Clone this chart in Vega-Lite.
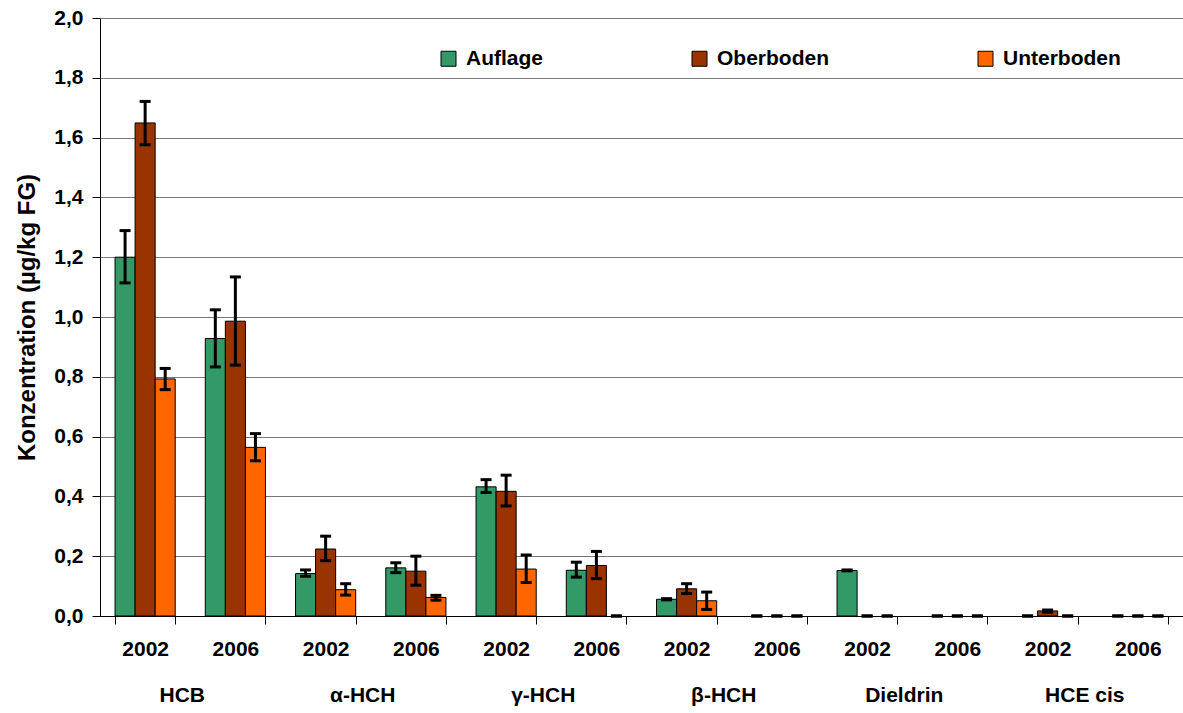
{
  "$schema": "https://vega.github.io/schema/vega-lite/v6.json",
  "width": 1083,
  "height": 598,
  "autosize": {"type": "none"},
  "padding": {"left": 100, "top": 18, "right": 0, "bottom": 97},
  "background": "white",
  "config": {
    "view": {"stroke": null},
    "font": "Liberation Sans",
    "axis": {"labelColor": "black", "titleColor": "black", "domainColor": "black", "tickColor": "black", "labelFont": "Liberation Sans", "titleFont": "Liberation Sans"}
  },
  "data": {
    "values": [
      {"compound": "HCB", "year": "2002", "key": "HCB|2002", "Boden": "Auflage", "value": 1.200, "lo": 1.114, "hi": 1.289},
      {"compound": "HCB", "year": "2002", "key": "HCB|2002", "Boden": "Oberboden", "value": 1.649, "lo": 1.576, "hi": 1.721},
      {"compound": "HCB", "year": "2002", "key": "HCB|2002", "Boden": "Unterboden", "value": 0.793, "lo": 0.757, "hi": 0.828},
      {"compound": "HCB", "year": "2006", "key": "HCB|2006", "Boden": "Auflage", "value": 0.928, "lo": 0.833, "hi": 1.024},
      {"compound": "HCB", "year": "2006", "key": "HCB|2006", "Boden": "Oberboden", "value": 0.986, "lo": 0.839, "hi": 1.134},
      {"compound": "HCB", "year": "2006", "key": "HCB|2006", "Boden": "Unterboden", "value": 0.564, "lo": 0.519, "hi": 0.610},
      {"compound": "α-HCH", "year": "2002", "key": "α-HCH|2002", "Boden": "Auflage", "value": 0.142, "lo": 0.133, "hi": 0.154},
      {"compound": "α-HCH", "year": "2002", "key": "α-HCH|2002", "Boden": "Oberboden", "value": 0.224, "lo": 0.185, "hi": 0.267},
      {"compound": "α-HCH", "year": "2002", "key": "α-HCH|2002", "Boden": "Unterboden", "value": 0.088, "lo": 0.070, "hi": 0.108},
      {"compound": "α-HCH", "year": "2006", "key": "α-HCH|2006", "Boden": "Auflage", "value": 0.161, "lo": 0.145, "hi": 0.178},
      {"compound": "α-HCH", "year": "2006", "key": "α-HCH|2006", "Boden": "Oberboden", "value": 0.150, "lo": 0.103, "hi": 0.200},
      {"compound": "α-HCH", "year": "2006", "key": "α-HCH|2006", "Boden": "Unterboden", "value": 0.062, "lo": 0.053, "hi": 0.069},
      {"compound": "γ-HCH", "year": "2002", "key": "γ-HCH|2002", "Boden": "Auflage", "value": 0.432, "lo": 0.413, "hi": 0.456},
      {"compound": "γ-HCH", "year": "2002", "key": "γ-HCH|2002", "Boden": "Oberboden", "value": 0.417, "lo": 0.368, "hi": 0.471},
      {"compound": "γ-HCH", "year": "2002", "key": "γ-HCH|2002", "Boden": "Unterboden", "value": 0.157, "lo": 0.112, "hi": 0.204},
      {"compound": "γ-HCH", "year": "2006", "key": "γ-HCH|2006", "Boden": "Auflage", "value": 0.153, "lo": 0.130, "hi": 0.180},
      {"compound": "γ-HCH", "year": "2006", "key": "γ-HCH|2006", "Boden": "Oberboden", "value": 0.169, "lo": 0.125, "hi": 0.216},
      {"compound": "γ-HCH", "year": "2006", "key": "γ-HCH|2006", "Boden": "Unterboden", "value": 0, "lo": 0, "hi": 0},
      {"compound": "β-HCH", "year": "2002", "key": "β-HCH|2002", "Boden": "Auflage", "value": 0.056, "lo": 0.054, "hi": 0.058},
      {"compound": "β-HCH", "year": "2002", "key": "β-HCH|2002", "Boden": "Oberboden", "value": 0.091, "lo": 0.075, "hi": 0.108},
      {"compound": "β-HCH", "year": "2002", "key": "β-HCH|2002", "Boden": "Unterboden", "value": 0.051, "lo": 0.022, "hi": 0.080},
      {"compound": "β-HCH", "year": "2006", "key": "β-HCH|2006", "Boden": "Auflage", "value": 0, "lo": 0, "hi": 0},
      {"compound": "β-HCH", "year": "2006", "key": "β-HCH|2006", "Boden": "Oberboden", "value": 0, "lo": 0, "hi": 0},
      {"compound": "β-HCH", "year": "2006", "key": "β-HCH|2006", "Boden": "Unterboden", "value": 0, "lo": 0, "hi": 0},
      {"compound": "Dieldrin", "year": "2002", "key": "Dieldrin|2002", "Boden": "Auflage", "value": 0.152, "lo": 0.151, "hi": 0.154},
      {"compound": "Dieldrin", "year": "2002", "key": "Dieldrin|2002", "Boden": "Oberboden", "value": 0, "lo": 0, "hi": 0},
      {"compound": "Dieldrin", "year": "2002", "key": "Dieldrin|2002", "Boden": "Unterboden", "value": 0, "lo": 0, "hi": 0},
      {"compound": "Dieldrin", "year": "2006", "key": "Dieldrin|2006", "Boden": "Auflage", "value": 0, "lo": 0, "hi": 0},
      {"compound": "Dieldrin", "year": "2006", "key": "Dieldrin|2006", "Boden": "Oberboden", "value": 0, "lo": 0, "hi": 0},
      {"compound": "Dieldrin", "year": "2006", "key": "Dieldrin|2006", "Boden": "Unterboden", "value": 0, "lo": 0, "hi": 0},
      {"compound": "HCE cis", "year": "2002", "key": "HCE cis|2002", "Boden": "Auflage", "value": 0, "lo": 0, "hi": 0},
      {"compound": "HCE cis", "year": "2002", "key": "HCE cis|2002", "Boden": "Oberboden", "value": 0.017, "lo": 0.013, "hi": 0.020},
      {"compound": "HCE cis", "year": "2002", "key": "HCE cis|2002", "Boden": "Unterboden", "value": 0, "lo": 0, "hi": 0},
      {"compound": "HCE cis", "year": "2006", "key": "HCE cis|2006", "Boden": "Auflage", "value": 0, "lo": 0, "hi": 0},
      {"compound": "HCE cis", "year": "2006", "key": "HCE cis|2006", "Boden": "Oberboden", "value": 0, "lo": 0, "hi": 0},
      {"compound": "HCE cis", "year": "2006", "key": "HCE cis|2006", "Boden": "Unterboden", "value": 0, "lo": 0, "hi": 0}
    ]
  },
  "layer": [
    {
      "encoding": {
        "x": {
          "field": "key", "type": "nominal",
          "sort": ["HCB|2002", "HCB|2006", "α-HCH|2002", "α-HCH|2006", "γ-HCH|2002", "γ-HCH|2006", "β-HCH|2002", "β-HCH|2006", "Dieldrin|2002", "Dieldrin|2006", "HCE cis|2002", "HCE cis|2006"],
          "scale": {"type": "band", "paddingInner": 0.3333, "paddingOuter": 0.1667},
          "axis": {
            "orient": "bottom",
            "title": null,
            "labelExpr": "split(datum.value, '|')[1]",
            "labelAngle": 0,
            "labelFontSize": 21,
            "labelFontWeight": "bold",
            "labelPadding": 14,
            "tickBand": "extent",
            "tickSize": 8,
            "domainWidth": 1,
            "grid": false
          }
        },
        "xOffset": {"field": "Boden", "type": "nominal", "sort": ["Auflage", "Oberboden", "Unterboden"], "scale": {"paddingInner": 0, "paddingOuter": 0}}
      },
      "layer": [
        {
          "mark": {"type": "bar", "stroke": "black", "strokeWidth": 1},
          "encoding": {
            "y": {
              "field": "value", "type": "quantitative",
              "scale": {"domain": [0, 2], "nice": false},
              "axis": {
                "title": "Konzentration (µg/kg FG)",
                "values": [0, 0.2, 0.4, 0.6, 0.8, 1.0, 1.2, 1.4, 1.6, 1.8, 2.0],
                "labelExpr": "replace(format(datum.value, '.1f'), '.', ',')",
                "labelFontSize": 21,
                "labelFontWeight": "bold",
                "labelPadding": 9,
                "tickSize": 8,
                "grid": true,
                "gridColor": "#777777",
                "gridWidth": 1,
                "titleFontSize": 24,
                "titleFontWeight": "bold",
                "titlePadding": 14
              }
            },
            "color": {
              "field": "Boden", "type": "nominal",
              "scale": {"domain": ["Auflage", "Oberboden", "Unterboden"], "range": ["#339966", "#993300", "#FF6600"]},
              "legend": {
                "title": null,
                "orient": "none",
                "legendX": 338,
                "legendY": 30,
                "direction": "horizontal",
                "columns": 3,
                "columnPadding": 145,
                "padding": 0,
                "symbolType": "square",
                "symbolSize": 225,
                "symbolStrokeColor": "black",
                "symbolStrokeWidth": 1,
                "symbolOpacity": 1,
                "labelFontSize": 21,
                "labelFontWeight": "bold",
                "labelFont": "Liberation Sans",
                "labelColor": "black",
                "labelOffset": 7
              }
            },
            "strokeOpacity": {"condition": {"test": "datum.value == 0", "value": 0}, "value": 1}
          }
        },
        {
          "mark": {"type": "rule", "strokeWidth": 3, "color": "black"},
          "encoding": {
            "y": {"field": "lo", "type": "quantitative"},
            "y2": {"field": "hi"}
          }
        },
        {
          "mark": {"type": "tick", "thickness": 3, "size": 11, "color": "black", "opacity": 1},
          "encoding": {"y": {"field": "lo", "type": "quantitative"}}
        },
        {
          "mark": {"type": "tick", "thickness": 3, "size": 11, "color": "black", "opacity": 1},
          "encoding": {"y": {"field": "hi", "type": "quantitative"}}
        }
      ]
    },
    {
      "mark": {"type": "text", "text": ""},
      "encoding": {
        "x": {
          "field": "compound", "type": "nominal",
          "sort": ["HCB", "α-HCH", "γ-HCH", "β-HCH", "Dieldrin", "HCE cis"],
          "scale": {"type": "band", "paddingInner": 0, "paddingOuter": 0},
          "axis": {
            "orient": "bottom",
            "title": null,
            "labelAngle": 0,
            "labelFontSize": 21,
            "labelFontWeight": "bold",
            "ticks": false,
            "tickSize": 0,
            "domain": false,
            "grid": false,
            "labelPadding": 68,
            "labelOffset": -8
          }
        }
      }
    }
  ],
  "resolve": {"scale": {"x": "independent"}, "axis": {"x": "independent"}}
}
